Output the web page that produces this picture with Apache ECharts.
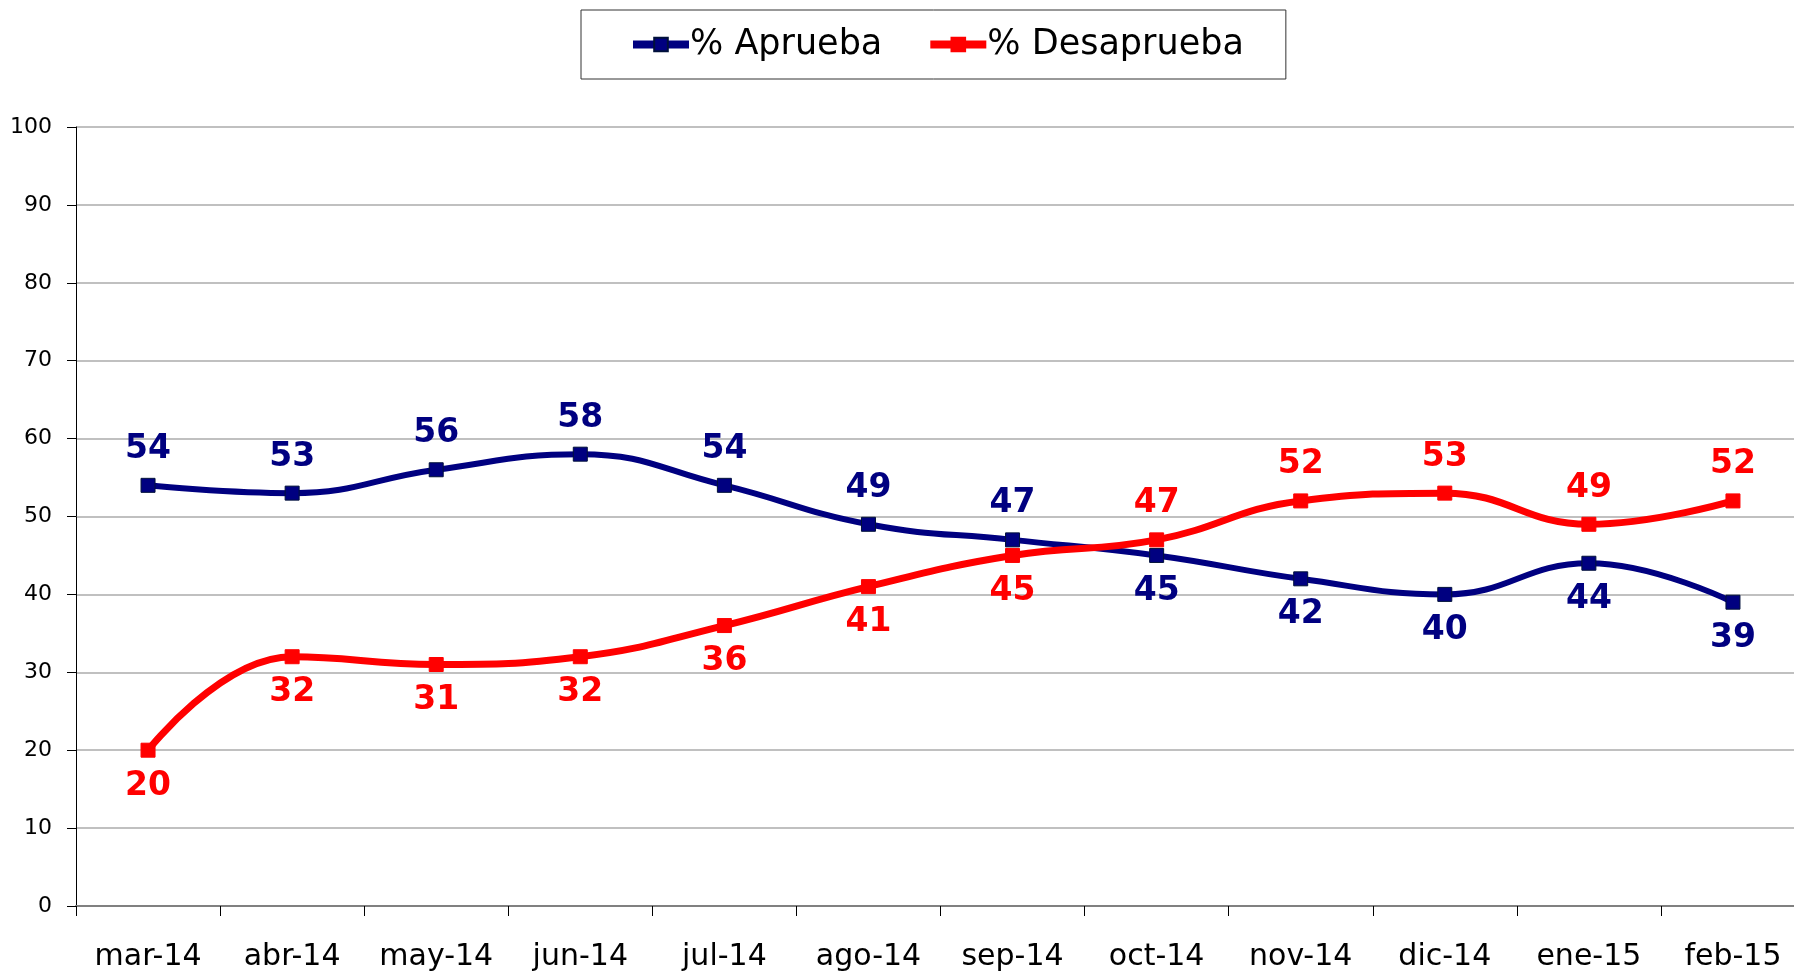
<!DOCTYPE html>
<html>
<head>
<meta charset="utf-8">
<script src="https://cdn.jsdelivr.net/npm/echarts@6/dist/echarts.min.js"></script>
<style>
  html, body { margin: 0; padding: 0; background: #fff; overflow: hidden; }
  /* the plot runs past the right edge of the page, as in the original */
  #chart { width: 1805px; height: 976px; }
</style>
</head>
<body>
<div id="chart"></div>
<script>
  const months = ['mar-14', 'abr-14', 'may-14', 'jun-14', 'jul-14', 'ago-14', 'sep-14', 'oct-14', 'nov-14', 'dic-14', 'ene-15', 'feb-15']
  const aprueba = [54, 53, 56, 58, 54, 49, 47, 45, 42, 40, 44, 39]
  const desaprueba = [20, 32, 31, 32, 36, 41, 45, 47, 52, 53, 49, 52]
  const seriesNames = ['% Aprueba', '% Desaprueba']

  const font = 'DejaVu Sans'
  const blue = '#000080'
  const red = '#ff0000'

  // label goes above when the series is the higher one at that month
  function points(vals, other) {
    return vals.map((v, i) => ({
      value: v,
      label: { position: v >= other[i] ? 'top' : 'bottom' }
    }))
  }

  function lineSeries(name, vals, other, color, width, border) {
    return {
      name: name,
      type: 'line',
      smooth: 0.45,
      symbol: 'rect',
      symbolSize: 14,
      lineStyle: { width: width, color: color },
      itemStyle: { color: color, borderColor: border, borderWidth: 1 },
      label: {
        show: true,
        distance: 12,
        color: color,
        fontFamily: font,
        fontWeight: 'bold',
        fontSize: 33
      },
      data: points(vals, other)
    }
  }

  const chart = echarts.init(document.getElementById('chart'))
  chart.setOption({
    animation: false,
    legend: {
      left: 581,
      top: 10,
      padding: [17, 42, 17, 48],
      itemGap: 44,
      itemWidth: 56,
      itemHeight: 17,
      borderColor: '#333',
      borderWidth: 1,
      backgroundColor: '#fff',
      lineStyle: { width: 8 },
      textStyle: { fontFamily: font, fontSize: 35, color: '#000', padding: [0, 0, 0, -4] },
      data: seriesNames
    },
    grid: {
      left: 76,
      top: 127,
      bottom: 70,
      right: 0
    },
    xAxis: {
      type: 'category',
      data: months,
      axisLine: { lineStyle: { color: '#808080', width: 2 } },
      axisTick: { show: true, interval: 0, length: 10, lineStyle: { color: '#000', width: 1 } },
      axisLabel: { interval: 0, fontFamily: font, fontSize: 30, color: '#000', margin: 36 }
    },
    yAxis: {
      type: 'value',
      min: 0,
      max: 100,
      interval: 10,
      axisLine: { show: true, lineStyle: { color: '#000', width: 1 } },
      axisTick: { show: true, length: 9, lineStyle: { color: '#000', width: 1 } },
      axisLabel: { fontFamily: font, fontSize: 22, color: '#000', margin: 24 },
      splitLine: { lineStyle: { color: '#c0c0c0', width: 2 } }
    },
    series: [
      lineSeries(seriesNames[0], aprueba, desaprueba, blue, 6, '#00103a'),
      lineSeries(seriesNames[1], desaprueba, aprueba, red, 7, red)
    ]
  })
</script>
</body>
</html>
